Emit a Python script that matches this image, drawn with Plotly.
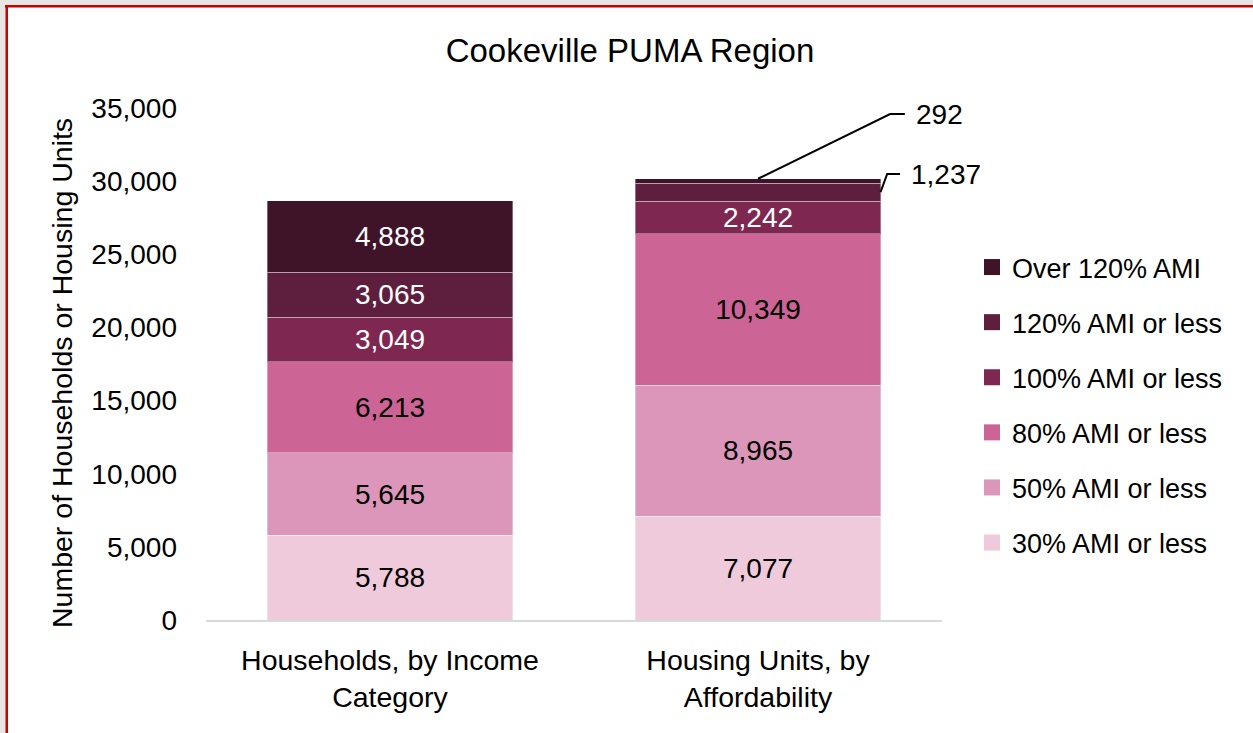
import plotly.graph_objects as go

categories = ["Households, by Income<br>Category", "Housing Units, by<br>Affordability"]
series_names = ["30% AMI or less", "50% AMI or less", "80% AMI or less",
                "100% AMI or less", "120% AMI or less", "Over 120% AMI"]
values_30 = [5788, 7077]
values_50 = [5645, 8965]
values_80 = [6213, 10349]
values_100 = [3049, 2242]
values_120 = [3065, 1237]
values_over = [4888, 292]
series_values = [values_30, values_50, values_80, values_100, values_120, values_over]
colors = ["#efcadb", "#dc96b9", "#cc6496", "#7e2851", "#5e1f3e", "#3f1429"]
text_colors = ["black", "black", "black", "white", "white", "white"]
y_ticks = [0, 5000, 10000, 15000, 20000, 25000, 30000, 35000]

W, H = 1253, 733
L, R, T, B = 206, 311, 108, 113
pw, ph = W - L - R, H - T - B

def px(x):
    return (x - L) / pw

def py(y):
    return (H - B - y) / ph

FONT = "Liberation Sans"
fig = go.Figure()
for name, vals, col, tc in zip(series_names, series_values, colors, text_colors):
    labels = [f"{v:,}" if v >= 2000 else "" for v in vals]
    fig.add_trace(go.Bar(
        x=categories, y=vals, name=name, showlegend=False,
        marker=dict(color=col, line=dict(color="rgba(255,255,255,0.35)", width=1)),
        text=labels, texttemplate="%{text}", textposition="inside",
        insidetextanchor="middle", textangle=0,
        textfont=dict(family=FONT, size=28, color=tc),
    ))
# legend entries (top = last series), with larger square swatches
for name, col in reversed(list(zip(series_names, colors))):
    fig.add_trace(go.Scatter(
        x=[None], y=[None], mode="markers", name=name, legendgroup=name,
        marker=dict(symbol="square", size=16, color=col),
    ))

# small labels on the second bar with leader lines
cum = [sum(s[1] for s in series_values[:i + 1]) for i in range(len(series_values))]
top_total = cum[-1]
mid_120 = cum[4] - values_120[1] / 2
shapes = []
ann = []
y292 = (H - B - 114) / ph * 35000
shapes.append(dict(type="path", xref="x", yref="y",
                   path=f"M 1,{top_total} L 1.359,{y292} L 1.399,{y292}",
                   line=dict(color="black", width=2)))
ann.append(dict(x=1.425, y=y292, xref="x", yref="y", text=f"{values_over[1]:,}",
                showarrow=False, xanchor="left", yanchor="middle",
                font=dict(family=FONT, size=28, color="black")))
y1237 = (H - B - 174) / ph * 35000
shapes.append(dict(type="path", xref="x", yref="y",
                   path=f"M 1.333,{mid_120} L 1.351,{y1237} L 1.386,{y1237}",
                   line=dict(color="black", width=2)))
ann.append(dict(x=1.41, y=y1237, xref="x", yref="y", text=f"{values_120[1]:,}",
                showarrow=False, xanchor="left", yanchor="middle",
                font=dict(family=FONT, size=28, color="black")))

ann.append(dict(x=px(62), y=py(373), xref="paper", yref="paper",
                text="Number of Households or Housing Units", textangle=-90,
                showarrow=False, xanchor="center", yanchor="middle",
                font=dict(family=FONT, size=28.5, color="black")))

shapes += [
    dict(type="rect", xref="paper", yref="paper", x0=px(0), x1=px(W), y0=py(0), y1=py(5),
         fillcolor="#e6e6e6", line=dict(width=0), layer="above"),
    dict(type="rect", xref="paper", yref="paper", x0=px(0), x1=px(6), y0=py(0), y1=py(H),
         fillcolor="#e6e6e6", line=dict(width=0), layer="above"),
    dict(type="rect", xref="paper", yref="paper", x0=px(5), x1=px(W), y0=py(5), y1=py(7.5),
         fillcolor="#cc0000", line=dict(width=0), layer="above"),
    dict(type="rect", xref="paper", yref="paper", x0=px(5.5), x1=px(8), y0=py(5), y1=py(H),
         fillcolor="#cc0000", line=dict(width=0), layer="above"),
]

fig.update_layout(
    width=W, height=H,
    margin=dict(l=L, r=R, t=T, b=B, autoexpand=False),
    barmode="stack", bargap=0.334,
    paper_bgcolor="white", plot_bgcolor="white",
    title=dict(text="Cookeville PUMA Region", xref="container", x=630 / W, xanchor="center",
               yref="container", y=1 - 50 / H, yanchor="middle",
               font=dict(family=FONT, size=33, color="black")),
    legend=dict(traceorder="grouped", tracegroupgap=17,
                x=px(972), xanchor="left", y=py(405), yanchor="middle",
                font=dict(family=FONT, size=27, color="black"),
                bgcolor="rgba(0,0,0,0)"),
    uniformtext=dict(minsize=28, mode="show"),
    shapes=shapes, annotations=ann,
    showlegend=True,
)
fig.update_yaxes(range=[0, 35000], tickvals=y_ticks, tickformat=",", showgrid=False,
                 zeroline=False, showline=False, ticks="", ticklabelstandoff=28,
                 tickfont=dict(family=FONT, size=28, color="black"))
fig.update_xaxes(range=[-0.5, 1.5], showline=True, linecolor="#d9d9d9", linewidth=2, ticks="",
                 showgrid=False, ticklabelstandoff=14,
                 tickfont=dict(family=FONT, size=28.5, color="black"))

fig.write_html("out.html", config={"displayModeBar": False},
               post_script="document.body.style.margin='0';document.body.style.overflow='hidden';")
